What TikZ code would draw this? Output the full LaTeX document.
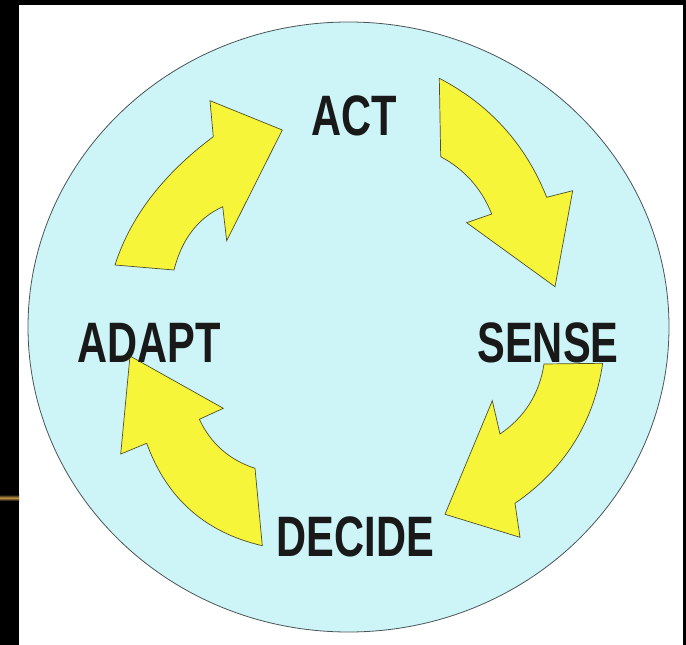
\documentclass[tikz,border=0pt]{standalone}
\usepackage{fontspec}
\usepackage{graphicx}
\newfontfamily\lblfont{Liberation Sans}
\definecolor{discfill}{HTML}{CDF5F8}
\definecolor{discline}{HTML}{4A5558}
\definecolor{arrowfill}{HTML}{F7F53A}
\definecolor{arrowline}{HTML}{4F4F2A}
\definecolor{glow}{HTML}{C9994A}
\tikzset{
  cyclearrow/.style={fill=arrowfill, draw=arrowline, line width=0.7pt, line join=miter},
  lbl/.style={inner sep=0pt, font=\lblfont\bfseries\fontsize{57}{60}\selectfont, text=black!90}
}
\newcommand{\narrow}[1]{\scalebox{0.73}[1]{#1}}
\begin{document}
\begin{tikzpicture}[x=1pt,y=-1pt]
\useasboundingbox (0,0) rectangle (686,645);
% background
\fill[black] (0,0) rectangle (686,645);
\fill[white] (19,5) rectangle (683,645);
\shade[top color=black, bottom color=black, middle color=glow] (0,494.5) rectangle (19,501);
% disc
\filldraw[fill=discfill, draw=discline, line width=0.8pt] (348.5,327) ellipse [x radius=320.5, y radius=305];
% arrows
\path[cyclearrow] (115,265) .. controls (130.3,217) and (163,174.3) .. (213.3,136.7)
  -- (210,100.7) -- (282.3,130) -- (226.7,240.7) -- (222.7,206.7)
  .. controls (198,218) and (181.8,239.1) .. (174,270) -- cycle;
\path[cyclearrow] (439.3,78.3) .. controls (489.8,104.6) and (525.6,144.3) .. (546.7,197.3)
  -- (572.7,190.7) -- (555,286.7) -- (466.7,222.7) -- (491.7,214)
  .. controls (481.6,188.6) and (464.6,169.5) .. (440.7,156.7) -- cycle;
\path[cyclearrow] (544,364) -- (602.7,363.3) .. controls (593.8,422.8) and (564.5,469.1) .. (515,503.3)
  -- (520,537.3) -- (445,514.3) -- (492.3,400.7) -- (500,434)
  .. controls (524.8,417.1) and (539.5,393.7) .. (544,364) -- cycle;
\path[cyclearrow] (262.3,545.7) -- (255,468.3) .. controls (229.4,460) and (210.8,443.6) .. (199.3,419.3)
  -- (223.3,408.3) -- (130,356) -- (120.7,454) -- (146.7,443.3)
  .. controls (166.7,498.4) and (205.2,532.5) .. (262.3,545.7) -- cycle;
% labels
\node[lbl] (act) at (354,116) {\narrow{ACT}};
\node[lbl] (sense) at (548,342.5) {\narrow{SENSE}};
\node[lbl] (decide) at (355.5,537) {\narrow{DECIDE}};
\node[lbl] (adapt) at (149,342.5) {\narrow{ADAPT}};
\end{tikzpicture}
\end{document}
